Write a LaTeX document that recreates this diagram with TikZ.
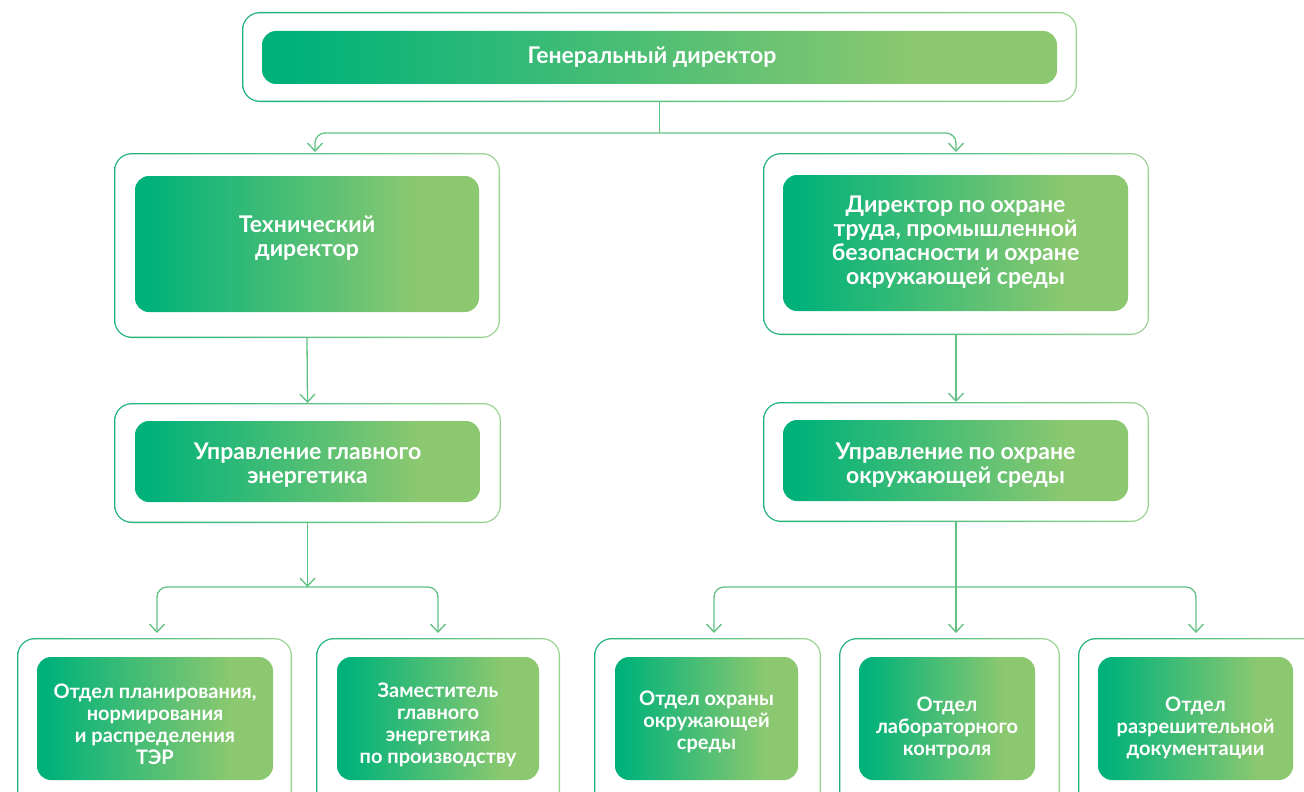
\documentclass[tikz,border=0pt]{standalone}
\usepackage{fontspec}
\setmainfont{Lato}
\usetikzlibrary{arrows.meta}
\definecolor{gA}{RGB}{0,178,122}
\definecolor{gB}{RGB}{139,200,112}
\definecolor{fA}{RGB}{30,178,120}
\definecolor{fB}{RGB}{155,212,145}
\definecolor{lnC}{RGB}{95,192,130}
\pgfdeclarehorizontalshading{boxshade}{100bp}{color(0bp)=(gA); color(27bp)=(gA); color(66bp)=(gB); color(100bp)=(gB)}
\begin{document}
\begin{tikzpicture}[x=1pt,y=-1pt,
  >={Straight Barb[length=8pt,width=15pt]},
  frame/.style={inner sep=0pt, outer sep=0pt, rounded corners=18pt,
    left color=fA, right color=fB,
    path picture={\fill[white, rounded corners=16.7pt]
      ([shift={(1.3pt,1.3pt)}]path picture bounding box.south west) rectangle
      ([shift={(-1.3pt,-1.3pt)}]path picture bounding box.north east);}},
  box/.style={inner sep=0pt, outer sep=0pt, rounded corners=14pt,
    shading=boxshade},
  txt/.style={inner sep=0pt, text=white, align=center,
    font=\bfseries\fontsize{23}{24}\selectfont},
  smalltxt/.style={txt, font=\bfseries\fontsize{20}{22}\selectfont},
  conn/.style={draw=lnC, line width=1.3pt}
]
\useasboundingbox (0,0) rectangle (1304,792);
\clip (0,0) rectangle (1304,792);

% top
\node[frame, minimum width=835, minimum height=90] (gdF) at (659.5,57) {};
\node[box, minimum width=795, minimum height=53] (gd) at (659.5,57.5) {};
\node[txt] (gdT) at (652,57) {Генеральный директор};

% level 2
\node[frame, minimum width=386, minimum height=185] (techF) at (307,245.5) {};
\node[box, minimum width=344, minimum height=136] (tech) at (307,244) {};
\node[txt] (techT) at (307,238) {Технический\\директор};
\node[frame, minimum width=386, minimum height=182] (safF) at (956,244) {};
\node[box, minimum width=345, minimum height=136] (saf) at (955.5,243) {};
\node[txt] (safT) at (955.5,242) {Директор по охране\\труда, промышленной\\безопасности и охране\\окружающей среды};

% level 3
\node[frame, minimum width=387, minimum height=120] (ugeF) at (307.5,463) {};
\node[box, minimum width=345, minimum height=81] (uge) at (307.5,461.5) {};
\node[txt] (ugeT) at (307.5,465) {Управление главного\\энергетика};
\node[frame, minimum width=386, minimum height=120] (uoosF) at (956,462) {};
\node[box, minimum width=345, minimum height=81] (uoos) at (955.5,460.5) {};
\node[txt] (uoosT) at (955.5,465) {Управление по охране\\окружающей среды};

% level 4
\node[frame, minimum width=275, minimum height=180] (b1F) at (154.5,728) {};
\node[box, minimum width=236, minimum height=123] (b1) at (155,718.5) {};
\node[smalltxt] (b1T) at (155,724.5) {Отдел планирования,\\нормирования\\и распределения\\ТЭР};
\node[frame, minimum width=244, minimum height=180] (b2F) at (438,728) {};
\node[box, minimum width=202, minimum height=123] (b2) at (438,718.5) {};
\node[smalltxt] (b2T) at (438,724.5) {Заместитель\\главного\\энергетика\\по производству};
\node[frame, minimum width=227, minimum height=180] (b3F) at (707.5,728) {};
\node[box, minimum width=183, minimum height=123] (b3) at (706.5,718.5) {};
\node[smalltxt] (b3T) at (706.5,721.5) {Отдел охраны\\окружающей\\среды};
\node[frame, minimum width=221, minimum height=180] (b4F) at (949.5,728) {};
\node[box, minimum width=176, minimum height=123] (b4) at (947,718.5) {};
\node[smalltxt] (b4T) at (947,727.5) {Отдел\\лабораторного\\контроля};
\node[frame, minimum width=252, minimum height=180] (b5F) at (1204,728) {};
\node[box, minimum width=195, minimum height=123] (b5) at (1195.5,718.5) {};
\node[smalltxt] (b5T) at (1195.5,727.5) {Отдел\\разрешительной\\документации};

% connectors
\draw[conn] (gdF.south) -- (659.5,133) coordinate (j1);
\draw[conn,->,rounded corners=10pt] (j1) -| ([xshift=8pt,yshift=1pt]techF.north);
\draw[conn,->,rounded corners=10pt] (j1) -| ([yshift=1pt]safF.north);
\draw[conn,->] (techF.south) -- (ugeF.north);
\draw[conn,->] (safF.south) -- (uoosF.north);
\draw[conn,->] (ugeF.south) -- (307.5,587) coordinate (j2);
\draw[conn,<->,rounded corners=10pt] ([xshift=2.5pt,yshift=5pt]b1F.north) -- ++(0,-46) -| ([yshift=5pt]b2F.north);
\draw[conn,->] (uoosF.south) -- ([xshift=6.5pt,yshift=5pt]b4F.north);
\draw[conn,<->,rounded corners=10pt] ([xshift=6.5pt,yshift=5pt]b3F.north) -- ++(0,-46) -| ([xshift=-8pt,yshift=5pt]b5F.north);
\end{tikzpicture}
\end{document}
